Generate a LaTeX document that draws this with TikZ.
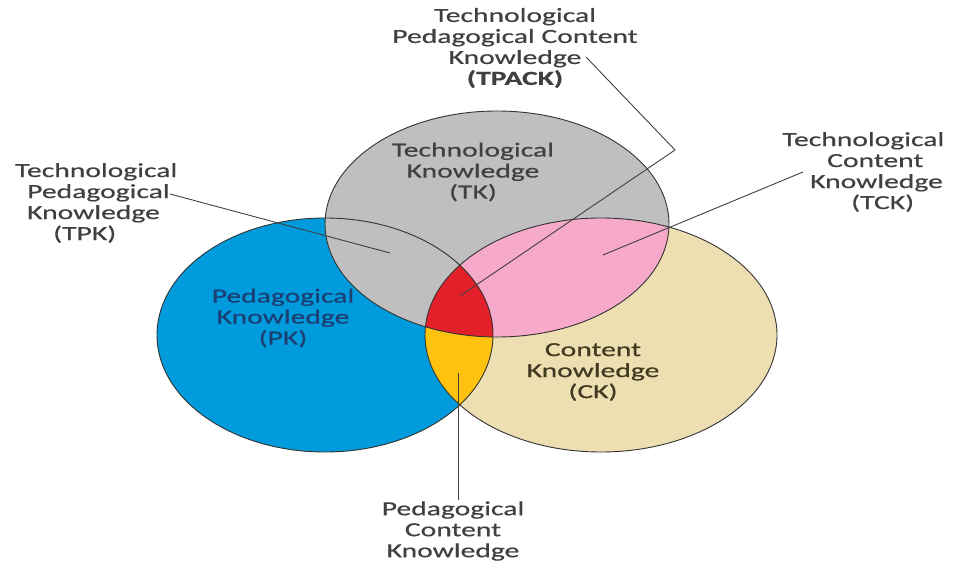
\documentclass[tikz,border=0pt]{standalone}
\usepackage{fontspec}
\setmainfont{Carlito}[FakeStretch=1.48, FakeBold=0.5]
\definecolor{pkblue}{HTML}{009BDC}
\definecolor{cktan}{HTML}{EEDFB2}
\definecolor{tkgray}{HTML}{BFBFBF}
\definecolor{tckpink}{HTML}{F6A9C8}
\definecolor{tpackred}{HTML}{E3202A}
\definecolor{pckyellow}{HTML}{FFC20E}
\definecolor{labelgray}{HTML}{404040}
\definecolor{pktext}{HTML}{1C3F73}
\definecolor{cktext}{HTML}{3F3A20}
\definecolor{edgegray}{HTML}{333333}
\tikzset{
  lbl/.style={font=\fontsize{20}{21}\selectfont, text=labelgray, inner sep=0pt},
  conn/.style={draw=labelgray, line width=0.9pt},
  outline/.style={draw=edgegray, line width=0.9pt},
}
\begin{document}
\begin{tikzpicture}[x=1pt,y=-1pt]
\useasboundingbox (0,0) rectangle (954,561);
% fills
\fill[pkblue] (325,335) ellipse [x radius=168pt, y radius=117pt];
\fill[cktan] (601,335) ellipse [x radius=176pt, y radius=117pt];
\begin{scope}
  \clip (325,335) ellipse [x radius=168pt, y radius=117pt];
  \fill[pckyellow] (601,335) ellipse [x radius=176pt, y radius=117pt];
\end{scope}
\fill[tkgray] (497,224) ellipse [x radius=172pt, y radius=113pt];
\begin{scope}
  \clip (497,224) ellipse [x radius=172pt, y radius=113pt];
  \fill[tckpink] (601,335) ellipse [x radius=176pt, y radius=117pt];
  \clip (601,335) ellipse [x radius=176pt, y radius=117pt];
  \fill[tpackred] (325,335) ellipse [x radius=168pt, y radius=117pt];
\end{scope}
% outlines
\draw[outline] (325,335) ellipse [x radius=168pt, y radius=117pt];
\draw[outline] (601,335) ellipse [x radius=176pt, y radius=117pt];
\draw[outline] (497,224) ellipse [x radius=172pt, y radius=113pt];

% labels
\node[lbl, align=center] (tpack) at (515,48) {Technological\\Pedagogical Content\\Knowledge\\\textbf{(TPACK)}};
\node[lbl, align=center] (tk) at (473,172) {Technological\\Knowledge\\(TK)};
\node[lbl, align=left, anchor=west] (tpk) at (15,203) {Technological\\\hspace*{12pt}Pedagogical\\\hspace*{12pt}Knowledge\\\hspace*{38pt}(TPK)};
\node[lbl, align=left, anchor=west] (tck) at (782,172) {Technological\\\hspace*{45pt}Content\\\hspace*{28pt}Knowledge\\\hspace*{69pt}(TCK)};
\node[lbl, align=center, text=pktext] (pk) at (283,318) {Pedagogical\\Knowledge\\(PK)};
\node[lbl, align=center, text=cktext] (ck) at (593,372) {Content\\Knowledge\\(CK)};
\node[lbl, align=center] (pck) at (453,531) {Pedagogical\\Content\\Knowledge};

% connector ends
\coordinate (tpackA) at (586,57);
\coordinate (tpackB) at (675,150);
\coordinate (tpackC) at (460,296);
\coordinate (tpkA) at (170,194);
\coordinate (tpkB) at (390,253);
\coordinate (tckA) at (803,172);
\coordinate (tckB) at (603,255);
\coordinate (pckA) at (458,373);
\coordinate (pckB) at (458,500);

\draw[conn] (tpackA) -- (tpackB) -- (tpackC);
\draw[conn] (tpkA) -- (tpkB);
\draw[conn] (tckA) -- (tckB);
\draw[conn] (pckA) -- (pckB);
\end{tikzpicture}
\end{document}
